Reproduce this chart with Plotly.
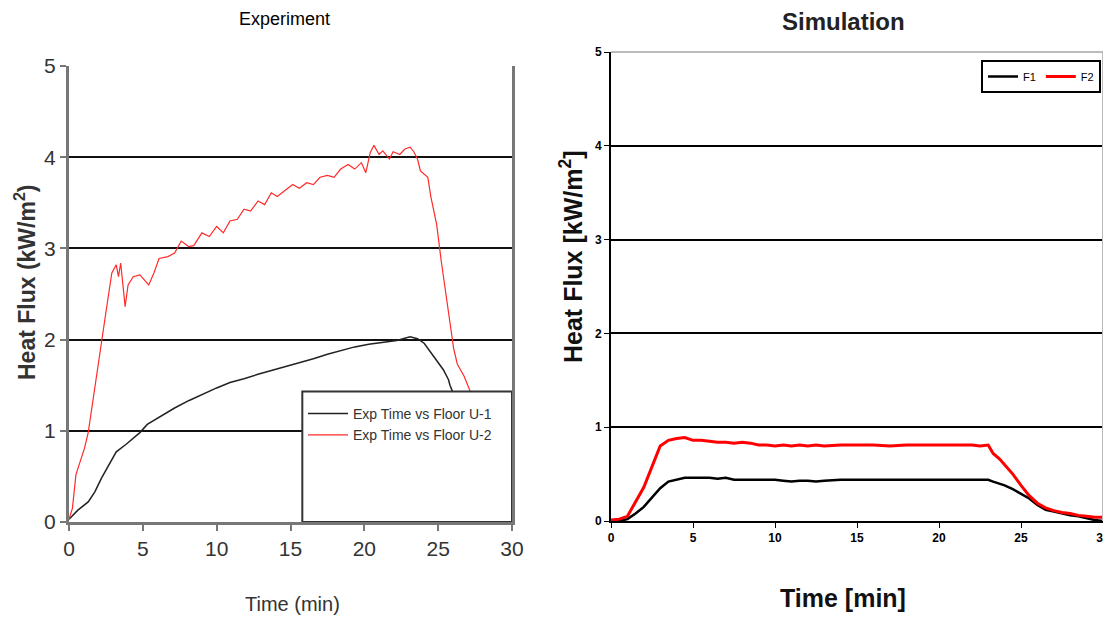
import plotly.graph_objects as go

# ---------------- Experiment data ----------------
exp_t_u1 = [0, 0.6, 1.3, 1.75, 2.2, 2.7, 3.2, 3.85, 4.35, 4.8, 5.3, 6.2, 7.15, 8.1, 9.0, 10.0,
            10.9, 11.85, 12.8, 13.7, 14.65, 15.6, 16.55, 17.5, 18.4, 19.35, 20.3, 21.25, 22.2,
            23.1, 23.6, 24.05, 24.5, 25.0, 25.35, 25.7, 25.8, 26.1]
exp_u1 = [0.03, 0.13, 0.22, 0.33, 0.48, 0.63, 0.77, 0.85, 0.92, 0.98, 1.07, 1.16, 1.25, 1.33, 1.40,
          1.47, 1.53, 1.57, 1.62, 1.66, 1.71, 1.75, 1.79, 1.84, 1.88, 1.92, 1.95, 1.97, 1.99,
          2.03, 2.01, 1.96, 1.86, 1.76, 1.67, 1.56, 1.50, 1.38]

exp_t_u2 = [0, 0.23, 0.47, 1.05, 1.3, 2.2, 2.5, 2.9, 3.2, 3.35, 3.5, 3.7, 3.8, 4.0, 4.35, 4.8,
            5.4, 5.75, 6.1, 6.7, 7.15, 7.6, 8.1, 8.45, 9.0, 9.5, 10.0, 10.45, 10.9, 11.4, 11.85,
            12.3, 12.8, 13.25, 13.7, 14.1, 14.45, 15.15, 15.6, 16.1, 16.55, 17.0, 17.5, 17.95,
            18.4, 18.9, 19.35, 19.8, 20.1, 20.4, 20.65, 21.0, 21.25, 21.7, 21.95, 22.4, 22.75,
            23.1, 23.35, 23.6, 23.8, 24.3, 24.5, 24.9, 25.2, 25.7, 26.05, 26.3, 26.75, 27.2,
            27.8, 28.7]
exp_u2 = [0.03, 0.15, 0.52, 0.81, 0.98, 2.0, 2.3, 2.73, 2.82, 2.69, 2.84, 2.52, 2.36, 2.6, 2.69,
          2.71, 2.6, 2.73, 2.89, 2.91, 2.95, 3.08, 3.02, 3.03, 3.17, 3.13, 3.24, 3.17, 3.3, 3.32,
          3.43, 3.41, 3.52, 3.48, 3.61, 3.57, 3.61, 3.7, 3.66, 3.72, 3.7, 3.78, 3.8, 3.78, 3.87,
          3.92, 3.87, 3.94, 3.83, 4.05, 4.13, 4.03, 4.07, 3.98, 4.06, 4.03, 4.09, 4.11, 4.06,
          3.98, 3.85, 3.78, 3.57, 3.26, 2.87, 2.3, 1.9, 1.73, 1.6, 1.42, 1.3, 1.2]

# ---------------- Simulation data ----------------
sim_t = [0, 0.5, 1.0, 1.5, 2.0, 2.5, 3.0, 3.5, 4.0, 4.5, 5.0, 5.5, 6.0, 6.5, 7.0, 7.5, 8.0, 8.5,
         9.0, 9.5, 10.0, 10.5, 11.0, 11.5, 12.0, 12.5, 13.0, 14.0, 15.0, 16.0, 17.0, 18.0, 19.0,
         20.0, 21.0, 22.0, 22.5, 23.0, 23.3, 23.7, 24.0, 24.5, 25.0, 25.5, 26.0, 26.5, 27.0,
         27.5, 28.0, 28.5, 29.0, 29.5, 30.0]
sim_f1 = [0.0, 0.0, 0.02, 0.08, 0.15, 0.25, 0.35, 0.42, 0.44, 0.46, 0.46, 0.46, 0.46, 0.45, 0.46,
          0.44, 0.44, 0.44, 0.44, 0.44, 0.44, 0.43, 0.42, 0.43, 0.43, 0.42, 0.43, 0.44, 0.44, 0.44,
          0.44, 0.44, 0.44, 0.44, 0.44, 0.44, 0.44, 0.44, 0.42, 0.40, 0.38, 0.34, 0.29, 0.24, 0.17,
          0.12, 0.10, 0.08, 0.06, 0.05, 0.03, 0.01, 0.0]
sim_f2 = [0.01, 0.02, 0.05, 0.2, 0.36, 0.58, 0.8, 0.86, 0.88, 0.89, 0.86, 0.86, 0.85, 0.84, 0.84,
          0.83, 0.84, 0.83, 0.81, 0.81, 0.80, 0.81, 0.80, 0.81, 0.80, 0.81, 0.80, 0.81, 0.81, 0.81,
          0.80, 0.81, 0.81, 0.81, 0.81, 0.81, 0.80, 0.81, 0.72, 0.66, 0.60, 0.50, 0.38, 0.27, 0.19,
          0.14, 0.11, 0.09, 0.08, 0.06, 0.05, 0.04, 0.04]

y_ticks = [0, 1, 2, 3, 4, 5]
x_ticks = [0, 5, 10, 15, 20, 25, 30]

SANS = "Liberation Sans, Arial, sans-serif"

# page body has an 8px margin: figure occupies window pixels 8..1111 x 8..630
OFF = 8
W, H = 1111 - OFF, 630 - OFF


def px(X):
    return (X - OFF) / W


def py(Y):
    return (630 - Y) / H


fig = go.Figure()

fig.add_trace(go.Scatter(x=exp_t_u1, y=exp_u1, mode="lines", name="Exp Time vs Floor U-1",
                         line=dict(color="#222222", width=1.5), xaxis="x", yaxis="y", legend="legend"))
fig.add_trace(go.Scatter(x=exp_t_u2, y=exp_u2, mode="lines", name="Exp Time vs Floor U-2",
                         line=dict(color="#ff2a2a", width=1.2), xaxis="x", yaxis="y", legend="legend"))
fig.add_trace(go.Scatter(x=sim_t, y=sim_f1, mode="lines", name="F1",
                         line=dict(color="black", width=2.5), xaxis="x2", yaxis="y2", legend="legend2"))
fig.add_trace(go.Scatter(x=sim_t, y=sim_f2, mode="lines", name="F2",
                         line=dict(color="#ff0000", width=3), xaxis="x2", yaxis="y2", legend="legend2"))

fig.update_layout(
    width=W, height=H,
    margin=dict(l=0, r=0, t=0, b=0, autoexpand=False),
    paper_bgcolor="white", plot_bgcolor="white",
    xaxis=dict(domain=[px(69), px(512)], range=[0, 30], tickvals=x_ticks, showgrid=False,
               showline=True, linecolor="#777777", linewidth=3, ticks="outside", ticklen=6,
               tickcolor="#777777", tickwidth=2, zeroline=False, automargin=False,
               tickfont=dict(family=SANS, size=21, color="#333333"), anchor="y"),
    yaxis=dict(domain=[py(522), py(66)], range=[0, 5], tickvals=y_ticks, showgrid=True,
               gridcolor="#111111", gridwidth=2, showline=True, linecolor="#777777", linewidth=3,
               mirror=True, ticks="outside", ticklen=6, tickcolor="#777777", tickwidth=2,
               zeroline=False, automargin=False,
               tickfont=dict(family=SANS, size=21, color="#333333"), anchor="x"),
    xaxis2=dict(domain=[px(611), px(1103)], range=[0, 30], tickvals=x_ticks, showgrid=False,
                showline=True, linecolor="black", linewidth=2, ticks="outside", ticklen=5,
                tickcolor="black", zeroline=False, automargin=False,
                tickfont=dict(family=SANS, size=12, color="black", weight="bold"), anchor="y2"),
    yaxis2=dict(domain=[py(521), py(52)], range=[0, 5], tickvals=y_ticks, showgrid=True,
                gridcolor="black", gridwidth=1.5, showline=True, linecolor="black", linewidth=2,
                ticks="outside", ticklen=5, tickcolor="black", zeroline=False, automargin=False,
                tickfont=dict(family=SANS, size=12, color="black", weight="bold"), anchor="x2"),
    legend=dict(x=px(303), y=py(398), xanchor="left", yanchor="top",
                bgcolor="rgba(0,0,0,0)", borderwidth=0,
                font=dict(family=SANS, size=14, color="#333333"), tracegroupgap=0,
                itemwidth=40),
    legend2=dict(x=px(1101), y=py(60), xanchor="right", yanchor="top",
                 orientation="h", bgcolor="white", bordercolor="black", borderwidth=2,
                 font=dict(family=SANS, size=11, color="black"), itemwidth=30),
    showlegend=True,
)

# legend frame in experiment panel (opaque box like original)
fig.add_shape(type="rect", xref="x", yref="y", x0=15.8, x1=30, y0=0, y1=1.43,
              fillcolor="white", line=dict(color="#333333", width=2), layer="above")
# light frame on simulation panel (top and right)
fig.add_shape(type="line", xref="x2 domain", yref="y2 domain", x0=0, x1=1, y0=1, y1=1,
              line=dict(color="#bbbbbb", width=2), layer="above")
fig.add_shape(type="line", xref="x2 domain", yref="y2 domain", x0=1, x1=1, y0=0, y1=1,
              line=dict(color="#bbbbbb", width=2), layer="above")

annotations = [
    dict(text="Experiment", x=px(284), y=py(19), xanchor="center", yanchor="middle",
         font=dict(family=SANS, size=18, color="black")),
    dict(text="Time (min)", x=px(292), y=py(604), xanchor="center", yanchor="middle",
         font=dict(family=SANS, size=20, color="#333333")),
    dict(text="Heat Flux (kW/m<sup>2</sup>)", x=px(25), y=py(282), xanchor="center",
         yanchor="middle", textangle=-90,
         font=dict(family=SANS, size=23, color="#333333", weight="bold")),
    dict(text="Simulation", x=px(843), y=py(21), xanchor="center", yanchor="middle",
         font=dict(family=SANS, size=24, color="#222222", weight="bold")),
    dict(text="Time [min]", x=px(843), y=py(598), xanchor="center", yanchor="middle",
         font=dict(family=SANS, size=25, color="#111111", weight="bold")),
    dict(text="Heat Flux [kW/m<sup>2</sup>]", x=px(571), y=py(257), xanchor="center",
         yanchor="middle", textangle=-90,
         font=dict(family=SANS, size=25, color="#111111", weight="bold")),
]
for a in annotations:
    a.update(xref="paper", yref="paper", showarrow=False)
fig.update_layout(annotations=annotations)

fig.write_html("out.html")
